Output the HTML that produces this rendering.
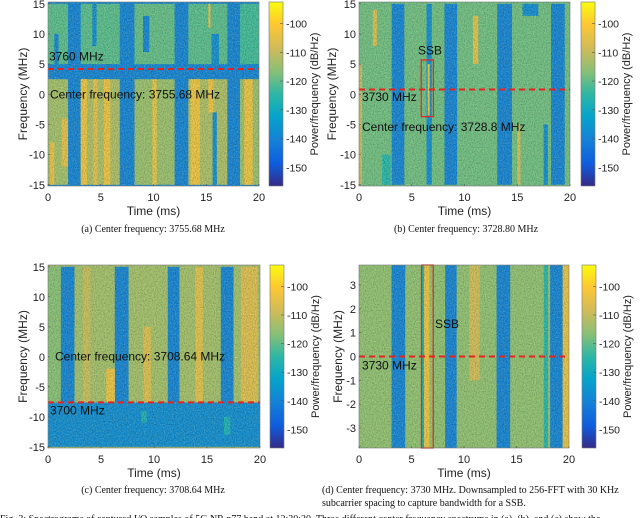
<!DOCTYPE html>
<html><head><meta charset="utf-8"><style>
html,body{margin:0;padding:0;background:#fff;}
svg{display:block;font-family:"Liberation Sans",sans-serif;}
.cap{font-family:"Liberation Serif",serif;font-size:10px;fill:#111;}
</style></head><body>
<svg id="fig" width="640" height="518" viewBox="0 0 640 518">
<defs>
<linearGradient id="parula" x1="0" y1="1" x2="0" y2="0">
<stop offset="0" stop-color="#352a87"/><stop offset="0.12" stop-color="#0f5cdd"/>
<stop offset="0.25" stop-color="#1481d6"/><stop offset="0.38" stop-color="#06a4ca"/>
<stop offset="0.5" stop-color="#2eb7a4"/><stop offset="0.62" stop-color="#87bf77"/>
<stop offset="0.75" stop-color="#d1bb59"/><stop offset="0.88" stop-color="#fec832"/>
<stop offset="1" stop-color="#f9fb0e"/></linearGradient>
<filter id="grainD" x="0" y="0" width="100%" height="100%">
<feTurbulence type="fractalNoise" baseFrequency="0.9 0.7" numOctaves="1" seed="3"/>
<feColorMatrix type="matrix" values="0 0 0 0 0  0 0 0 0 0  0 0 0 0 0  1.6 0 0 0 -0.6"/>
</filter>
<filter id="grainL" x="0" y="0" width="100%" height="100%">
<feTurbulence type="fractalNoise" baseFrequency="0.9 0.7" numOctaves="1" seed="11"/>
<feColorMatrix type="matrix" values="0 0 0 0 1  0 0 0 0 0.95  0 0 0 0 0.4  1.6 0 0 0 -0.6"/>
</filter>
</defs>
</svg>
<script>
// ---- data (dB levels of rectangular regions: [tStart, tEnd, fLow, fHigh, dB]) ----
const timeTicks = [0, 5, 10, 15, 20];
const freqTicksWide = [-15, -10, -5, 0, 5, 10, 15];
const freqTicksNarrow = [-3, -2, -1, 0, 1, 2, 3];
const cbarTicks = [-150, -140, -130, -120, -110, -100];
const panelABackground = -140;
const panelASegments = [
 [0,1.9,5,15,-121],[3.1,6.8,5,15,-121],[8.2,12.0,5,15,-120],[13.3,17.0,5,15,-121],[18.2,20,5,15,-123],
 [0.6,1.0,5,10,-140],[9.0,9.6,7,13,-140],[15.5,16.2,5,10,-138],[15.2,15.4,11,15,-105],[4.2,4.6,8,15,-138],
 [0,1.9,-15,2.5,-114],[3.1,6.8,-15,2.5,-113],[8.2,12.0,-15,2.5,-115],[13.3,17.0,-15,2.5,-113],[18.2,20,-15,2.5,-115],
 [0.2,0.6,-15,-8,-105],[1.3,1.9,-12,-4,-106],[3.1,3.7,-15,2.5,-104],[4.3,4.7,-15,2.5,-106],[5.3,5.9,-15,2.5,-104],
 [9.9,10.3,-15,2.5,-104],[13.5,14.4,-15,2.5,-104],[15.2,15.7,-3,2.5,-104],[18.6,19.4,-15,2.5,-104],[15.6,16.0,-15,-3,-138]
];
const panelADashedMHz = 4.2;
const panelBBackground = -119;
const panelBSegments = [
 [3.1,4.3,-15,15,-140],[8.1,9.3,-15,15,-140],[13.1,14.5,-15,15,-140],[18.2,19.5,-15,15,-140],
 [6.4,6.9,-15,15,-138],[6.5,6.7,-3.5,5,-104],[17.5,17.9,-15,-5,-138],[15.5,17,13,15,-138],
 [10.8,11.3,5,13,-106],[15.0,15.3,-15,-5,-108],[0,0.3,-15,5,-110],[1.3,1.7,8,14,-108],[2.2,3.0,-15,-10,-126]
];
const panelBDashedMHz = 0.8;
const panelBBox = [5.9, 7.05, -3.7, 5.7];
const panelCBackground = -114;
const panelCSegments = [
 [0,20,-15,-7.6,-138],
 [1.2,2.5,-7.6,15,-140],[6.3,7.6,-7.6,15,-140],[11.3,12.4,-7.6,15,-140],[16.3,17.5,-7.6,15,-140],
 [0,1.2,-7.6,15,-117],[5.5,6.3,-7.6,-2,-104],[13.9,14.6,-7.6,15,-106],[18.2,19.8,-7.6,15,-107],
 [9,9.7,-7.6,5,-107],[3.3,4.0,-7.6,15,-110],[8.8,9.3,-11,-9,-128],[16.6,17.2,-13,-10,-128]
];
const panelCDashedMHz = -7.6;
const panelDBackground = -116;
const panelDSegments = [
 [3.1,4.4,-3.84,3.84,-140],[8.2,9.3,-3.84,3.84,-140],[13.1,14.4,-3.84,3.84,-140],[18.2,19.4,-3.84,3.84,-140],
 [6.0,6.2,-3.84,3.84,-128],[6.2,6.7,-3.84,3.84,-104],[19.4,20,-3.84,3.84,-105],[10.5,11.5,-1,3.84,-109],[17.6,18.0,-3.84,3.84,-126]
];
const panelDDashedMHz = 0;
const panelDBox = [5.95, 7.07, -3.84, 3.84];

// ---- rendering ----
const NS = "http://www.w3.org/2000/svg";
const svg = document.getElementById('fig');
const stops = [[0,[53,42,135]],[0.12,[15,92,221]],[0.25,[20,129,214]],[0.38,[6,164,202]],[0.5,[46,183,164]],[0.62,[135,191,119]],[0.75,[209,187,89]],[0.88,[254,200,50]],[1,[249,251,14]]];
const DBMIN = -156.5, DBMAX = -92.5;
function parula(db){
  let f = (db-DBMIN)/(DBMAX-DBMIN); f = Math.max(0,Math.min(1,f));
  for(let i=1;i<stops.length;i++){ if(f<=stops[i][0]){ const a=stops[i-1],b=stops[i]; const u=(f-a[0])/(b[0]-a[0]);
    const c=a[1].map((v,k)=>Math.round(v+(b[1][k]-v)*u)); return `rgb(${c[0]},${c[1]},${c[2]})`; } }
  return 'rgb(249,251,14)';
}
function el(tag, attrs, parent){ const e=document.createElementNS(NS,tag); for(const k in attrs) e.setAttribute(k,attrs[k]); (parent||svg).appendChild(e); return e; }

function panel(p){
  const g = el('g',{});
  
  
  const xs = t => p.x0 + (t/20)*(p.x1-p.x0);
  const ys = f => p.y1 - (f-p.fmin)/(p.fmax-p.fmin)*(p.y1-p.y0);
  const bg = el('rect',{x:p.x0,y:p.y0,width:p.x1-p.x0,height:p.y1-p.y0,fill:parula(p.bg)},g);
  
  
  p.segs.forEach(s=>{
    const r = el('rect',{x:xs(s[0]),y:ys(s[3]),width:xs(s[1])-xs(s[0]),height:ys(s[2])-ys(s[3]),fill:parula(s[4])},g);
    
    
  });
  el('rect',{x:p.x0,y:p.y0,width:p.x1-p.x0,height:p.y1-p.y0,fill:'#000',opacity:0.3,filter:'url(#grainD)'},g);
  el('rect',{x:p.x0,y:p.y0,width:p.x1-p.x0,height:p.y1-p.y0,fill:'#000',opacity:0.3,filter:'url(#grainL)'},g);
  const dl = el('line',{x1:p.x0,x2:p.x1,y1:ys(p.dash),y2:ys(p.dash),stroke:'#e8231f','stroke-width':2,'stroke-dasharray':'6,4'},g);
  
  
  if(p.box){
    const b = el('rect',{x:xs(p.box[0]),y:ys(p.box[3]),width:xs(p.box[1])-xs(p.box[0]),height:ys(p.box[2])-ys(p.box[3]),fill:'none',stroke:'#e8231f','stroke-width':1.2},g);
    
    
  }
  const fr = el('rect',{x:p.x0,y:p.y0,width:p.x1-p.x0,height:p.y1-p.y0,fill:'none',stroke:'#777','stroke-width':0.6},g);
  
  
  timeTicks.forEach(t=>{
    el('line',{x1:xs(t),x2:xs(t),y1:p.y1,y2:p.y1-2,stroke:'#555','stroke-width':0.6},g);
    const tx = el('text',{x:xs(t),y:p.y1+15,'font-size':11,'text-anchor':'middle',fill:'#222'},g);
    tx.textContent = t;
    
    
  });
  p.fticks.forEach(f=>{
    el('line',{x1:p.x0,x2:p.x0+2,y1:ys(f),y2:ys(f),stroke:'#555','stroke-width':0.6},g);
    const tx = el('text',{x:p.x0-3,y:ys(f)+4,'font-size':11,'text-anchor':'end',fill:'#222'},g);
    tx.textContent = f;
    
    
  });
  const xt = el('text',{x:(p.x0+p.x1)/2,y:p.y1+29,'font-size':12,'text-anchor':'middle',fill:'#222'},g);
  xt.textContent='Time (ms)';
  
  
  const ycx = p.ylabX, ycy=(p.y0+p.y1)/2;
  const yt = el('text',{x:ycx,y:ycy,'font-size':12,'text-anchor':'middle',fill:'#222',transform:`rotate(-90 ${ycx} ${ycy})`},g);
  yt.textContent='Frequency (MHz)';
  
  
  const cb = el('rect',{x:p.cx,y:p.y0,width:14,height:p.y1-p.y0,fill:'url(#parula)',stroke:'#777','stroke-width':0.6},g);
  
  
  const cys = d => p.y1 - (d-DBMIN)/(DBMAX-DBMIN)*(p.y1-p.y0);
  cbarTicks.forEach(d=>{
    el('line',{x1:p.cx+11,x2:p.cx+14,y1:cys(d),y2:cys(d),stroke:'#555','stroke-width':0.6},g);
    const tx = el('text',{x:p.cx+17,y:cys(d)+4,'font-size':10.5,fill:'#222'},g);
    tx.textContent=d;
    
    
  });
  const lx=p.cx+49;
  const ct = el('text',{x:lx,y:ycy,'font-size':11,'text-anchor':'middle',fill:'#222',transform:`rotate(-90 ${lx} ${ycy})`},g);
  ct.textContent='Power/frequency (dB/Hz)';
  
  
  p.labels.forEach(l=>{
    const tx = el('text',{x:l[0],y:ys(l[1]),'font-size':12,fill:'#111'},g);
    tx.textContent=l[2];
    
    
  });
}

panel({name:'panel-a',x0:48,x1:259,y0:2,y1:186,fmin:-15.2,fmax:15.3,bg:panelABackground,segs:panelASegments,dash:panelADashedMHz,fticks:freqTicksWide,ylabX:27,cx:269,
  labels:[[49,5.6,'3760 MHz','reference-label'],[50,-0.7,'Center frequency: 3755.68 MHz','center-frequency-label']]});
panel({name:'panel-b',x0:359,x1:570,y0:2,y1:186,fmin:-15.2,fmax:15.3,bg:panelBBackground,segs:panelBSegments,dash:panelBDashedMHz,fticks:freqTicksWide,ylabX:336,cx:581,box:panelBBox,
  labels:[[418,6.6,'SSB','ssb-label'],[362,-1.1,'3730 MHz','reference-label'],[362,-6.1,'Center frequency: 3728.8 MHz','center-frequency-label']]});
panel({name:'panel-c',x0:48,x1:260,y0:265,y1:448,fmin:-15.2,fmax:15.3,bg:panelCBackground,segs:panelCSegments,dash:panelCDashedMHz,fticks:freqTicksWide,ylabX:27,cx:270,
  labels:[[55,-0.6,'Center frequency: 3708.64 MHz','center-frequency-label'],[50,-9.6,'3700 MHz','reference-label']]});
panel({name:'panel-d',x0:359,x1:569,y0:265,y1:448,fmin:-3.84,fmax:3.84,bg:panelDBackground,segs:panelDSegments,dash:panelDDashedMHz,fticks:freqTicksNarrow,ylabX:342,cx:582,box:panelDBox,
  labels:[[435,1.2,'SSB','ssb-label'],[362,-0.55,'3730 MHz','reference-label']]});

function cap(x,y,txt,anchor,name){
  const t = el('text',{x:x,y:y,'text-anchor':anchor,class:'cap'});
  t.textContent=txt;
  
  
}
cap(153,232,'(a) Center frequency: 3755.68 MHz','middle','caption-a');
cap(466,232,'(b) Center frequency: 3728.80 MHz','middle','caption-b');
cap(153,493,'(c) Center frequency: 3708.64 MHz','middle','caption-c');
cap(322,493,'(d) Center frequency: 3730 MHz. Downsampled to 256-FFT with 30 KHz','start','caption-d-line1');
cap(322,506,'subcarrier spacing to capture bandwidth for a SSB.','start','caption-d-line2');
cap(0,522,'Fig. 3:  Spectrograms of captured I/Q samples of 5G NR n77 band at 12:30:30. Three different center frequency spectrums in (a), (b), and (c) show the','start','figure-caption');
</script>
</body></html>
